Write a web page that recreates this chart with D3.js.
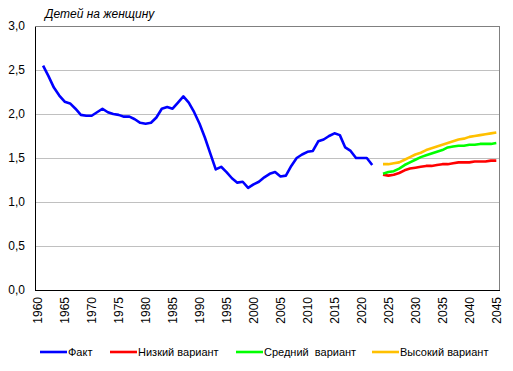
<!DOCTYPE html>
<html>
<head>
<meta charset="utf-8">
<script src="https://cdn.jsdelivr.net/npm/d3@7"></script>
<style>
body { margin: 0; background: #fff; }
svg text { font-family: Arial, "Liberation Sans", sans-serif; }
</style>
</head>
<body>
<div id="chart"></div>
<script>
var w = 513;
var h = 371;

// years on the axis
var years = d3.range(1960, 2046);
var yTicks = [0, 0.5, 1, 1.5, 2, 2.5, 3];

// actual data 1961-2022
var factYears = d3.range(1961, 2023);
var fact = [2.55, 2.43, 2.30, 2.21, 2.14, 2.12, 2.06, 1.99, 1.98, 1.98,
    2.02, 2.06, 2.02, 2.00, 1.99, 1.97, 1.97, 1.94, 1.90, 1.89,
    1.90, 1.96, 2.06, 2.08, 2.06, 2.13, 2.20, 2.13, 2.02, 1.89,
    1.73, 1.55, 1.37, 1.40, 1.34, 1.27, 1.22, 1.23, 1.16, 1.20,
    1.23, 1.28, 1.32, 1.34, 1.29, 1.30, 1.41, 1.50, 1.54, 1.57,
    1.58, 1.69, 1.71, 1.75, 1.78, 1.76, 1.62, 1.58, 1.50, 1.50,
    1.50, 1.42];

// forecasts 2024-2045
var fcYears = d3.range(2024, 2046);
var low = [1.31, 1.30, 1.31, 1.33, 1.36, 1.38, 1.39, 1.40, 1.41, 1.41,
    1.42, 1.43, 1.43, 1.44, 1.45, 1.45, 1.45, 1.46, 1.46, 1.46, 1.47, 1.47];
var mid = [1.32, 1.34, 1.35, 1.38, 1.42, 1.45, 1.48, 1.51, 1.53, 1.55,
    1.57, 1.59, 1.62, 1.63, 1.64, 1.64, 1.65, 1.65, 1.66, 1.66, 1.66, 1.67];
var high = [1.43, 1.43, 1.44, 1.45, 1.48, 1.51, 1.54, 1.56, 1.59, 1.61,
    1.63, 1.65, 1.67, 1.69, 1.71, 1.72, 1.74, 1.75, 1.76, 1.77, 1.78, 1.79];

var series = [
    {name: "Факт", years: factYears, values: fact, color: "#0000ff"},
    {name: "Низкий вариант", years: fcYears, values: low, color: "#ff0000"},
    {name: "Средний  вариант", years: fcYears, values: mid, color: "#00ff00"},
    {name: "Высокий вариант", years: fcYears, values: high, color: "#ffc000"}
];

var mLeft = 35, mRight = 499, mTop = 26, mBottom = 290;

var svg = d3.select("#chart").append("svg").attr("width", w).attr("height", h);

var x = d3.scalePoint().domain(years).range([mLeft, mRight]).padding(0.5);
var y = d3.scaleLinear().domain([0, 3]).range([mBottom, mTop]);

// grid lines
svg.selectAll("line.grid").data(yTicks.filter(function(d){ return d > 0 && d < 3; })).enter().append("line")
    .attr("class", "grid")
    .attr("x1", mLeft).attr("x2", mRight)
    .attr("y1", function(d){ return y(d); })
    .attr("y2", function(d){ return y(d); })
    .attr("stroke", "#c0c0c0").attr("stroke-width", 1)
    .attr("shape-rendering", "crispEdges");

// frame: top and right gray
svg.append("path")
    .attr("d", "M" + mLeft + "," + mTop + "H" + mRight + "V" + mBottom)
    .attr("fill", "none").attr("stroke", "#808080").attr("stroke-width", 1)
    .attr("shape-rendering", "crispEdges");

// y axis
var yAxis = svg.append("g").attr("transform", "translate(" + mLeft + ",0)")
    .call(d3.axisLeft(y).tickValues(yTicks).tickSize(0).tickPadding(10)
        .tickFormat(function(d){ return d3.format(".1f")(d).replace(".", ","); }));
yAxis.select(".domain").attr("stroke", "#000").attr("stroke-width", 1).attr("shape-rendering", "crispEdges");
yAxis.selectAll("text").attr("font-size", "12px").attr("fill", "#000")
    .attr("font-family", "Arial, 'Liberation Sans', sans-serif");

// x axis
var xAxis = svg.append("g").attr("transform", "translate(0," + mBottom + ")")
    .call(d3.axisBottom(x).tickValues(years.filter(function(d){ return d % 5 === 0; })).tickSize(0));
xAxis.select(".domain").attr("stroke", "#000").attr("stroke-width", 1).attr("shape-rendering", "crispEdges");
xAxis.selectAll("text")
    .attr("font-size", "12px").attr("fill", "#000")
    .attr("font-family", "Arial, 'Liberation Sans', sans-serif")
    .attr("transform", "rotate(-90)")
    .attr("text-anchor", "end")
    .attr("x", -7).attr("y", 0).attr("dy", "0.35em");

// lines
var line = d3.line()
    .x(function(d){ return x(d[0]); })
    .y(function(d){ return y(d[1]); });

svg.selectAll("path.series").data(series).enter().append("path")
    .attr("class", "series")
    .attr("d", function(s){ return line(s.years.map(function(yr, i){ return [yr, s.values[i]]; })); })
    .attr("fill", "none")
    .attr("stroke", function(s){ return s.color; })
    .attr("stroke-width", 2.6)
    .attr("stroke-linejoin", "round");

// title
svg.append("text").text("Детей на женщину")
    .attr("x", 45).attr("y", 18)
    .attr("font-size", "12px").attr("font-style", "italic");

// legend
var legendX = [40, 110, 236, 372];
var lg = svg.selectAll("g.legend").data(series).enter().append("g")
    .attr("class", "legend")
    .attr("transform", function(d, i){ return "translate(" + legendX[i] + ",352)"; });
lg.append("line").attr("x1", 0).attr("x2", 27).attr("y1", 0).attr("y2", 0)
    .attr("stroke", function(d){ return d.color; }).attr("stroke-width", 2.6);
lg.append("text").text(function(d){ return d.name; })
    .attr("x", 28).attr("y", 0).attr("dy", "0.35em")
    .attr("font-size", "11px").style("white-space", "pre");
</script>
</body>
</html>
